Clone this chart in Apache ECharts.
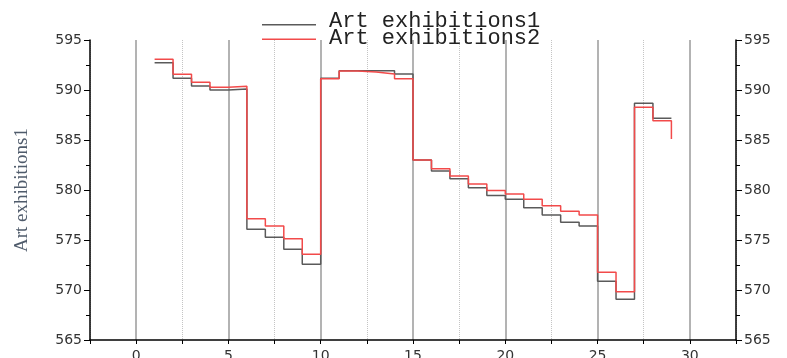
<!DOCTYPE html>
<html>
<head>
<meta charset="utf-8">
<script src="https://cdn.jsdelivr.net/npm/echarts@6/dist/echarts.min.js"></script>
<style>html,body{margin:0;padding:0;background:#fff;}#main{width:787px;height:358px;}</style>
</head>
<body>
<div id="main"></div>
<script>
var xValues = [1,2,3,4,5,6,7,8,9,10,11,12,13,14,15,16,17,18,19,20,21,22,23,24,25,26,27,28,29];
var series1Name = 'Art exhibitions1';
var series2Name = 'Art exhibitions2';
var series1 = [592.73,591.17,590.4,590.0,590.1,576.07,575.27,574.07,572.57,591.17,591.93,591.93,591.93,591.6,583.0,581.9,581.13,580.23,579.45,579.07,578.23,577.5,576.77,576.4,570.87,569.07,588.67,587.17,587.17];
var series2 = [593.07,591.57,590.77,590.27,590.37,577.13,576.4,575.13,573.57,591.13,591.9,591.8,591.6,591.13,583.0,582.13,581.4,580.6,579.95,579.6,579.07,578.43,577.87,577.5,571.77,569.83,588.27,586.93,585.1];
var yTicks = [565,570,575,580,585,590,595];
var xTicks = [0,5,10,15,20,25,30];
var yAxisName = 'Art exhibitions1';

function pairs(xs, ys){ return xs.map(function(x,i){ return [x, ys[i]]; }); }

var chart = echarts.init(document.getElementById('main'), null, {renderer:'canvas'});
var yAxisCommon = {
  type:'value', min:yTicks[0], max:yTicks[yTicks.length-1], interval:5,
  axisLine:{show:true, onZero:false, lineStyle:{color:'#000', width:1.5}},
  axisTick:{show:true, length:6, lineStyle:{color:'#000', width:1}},
  minorTick:{show:true, splitNumber:2, length:4, lineStyle:{color:'#000', width:1}},
  axisLabel:{fontFamily:'DejaVu Sans', fontSize:14, color:'#333', margin:8},
  splitLine:{show:false}
};
var legendText = {fontFamily:'Liberation Mono', fontSize:22, color:'#222', padding:[0,0,0,8]};
chart.setOption({
  animation:false,
  backgroundColor:'#fff',
  grid:{left:90, right:51, top:40, bottom:18, containLabel:false, outerBoundsMode:'none'},
  legend:[
    {data:[series1Name], left:262, top:10, itemWidth:54, itemHeight:9,
     icon:'path://M0,0M0,7.5L54,7.5L54,9L0,9Z', textStyle:legendText, padding:0},
    {data:[series2Name], left:262, top:27, itemWidth:54, itemHeight:4,
     icon:'path://M0,0M0,2.5L54,2.5L54,4L0,4Z', textStyle:legendText, padding:0}
  ],
  xAxis:[
    {type:'value', min:-2.5, max:32.5, interval:2.5, position:'bottom',
     axisLine:{show:true, onZero:false, lineStyle:{color:'#000', width:1.5}},
     axisTick:{show:true, length:4, lineStyle:{color:'#000', width:1}},
     axisLabel:{fontFamily:'DejaVu Sans', fontSize:14, color:'#333', margin:9,
       formatter:function(v){ return xTicks.indexOf(Math.round(v*100)/100) >= 0 ? String(v) : ''; }},
     splitLine:{show:true, lineStyle:{color:['rgba(0,0,0,0)','#9a9a9a'], width:1.5}}
    },
    {type:'value', min:-2.5, max:32.5, interval:5, position:'bottom',
     axisLine:{show:false}, axisTick:{show:false}, axisLabel:{show:false},
     splitLine:{show:true, lineStyle:{color:'#c4c4c4', type:'dotted', width:1}}
    }
  ],
  yAxis:[
    Object.assign({}, yAxisCommon, {position:'left', name:yAxisName, nameLocation:'middle', nameGap:58,
      nameTextStyle:{fontFamily:'Liberation Serif', fontSize:19, color:'#4f5b6b'}}),
    Object.assign({}, yAxisCommon, {position:'right'})
  ],
  series:[
    {name:series1Name, type:'line', step:'end', xAxisIndex:0, yAxisIndex:0, symbol:'none',
     data:pairs(xValues, series1), lineStyle:{color:'#5a5a5a', width:1.5}, itemStyle:{color:'#5a5a5a'}},
    {name:series2Name, type:'line', step:'end', xAxisIndex:0, yAxisIndex:0, symbol:'none',
     data:pairs(xValues, series2), lineStyle:{color:'#f24a4a', width:1.5}, itemStyle:{color:'#f24a4a'}}
  ]
});
</script>
</body>
</html>
